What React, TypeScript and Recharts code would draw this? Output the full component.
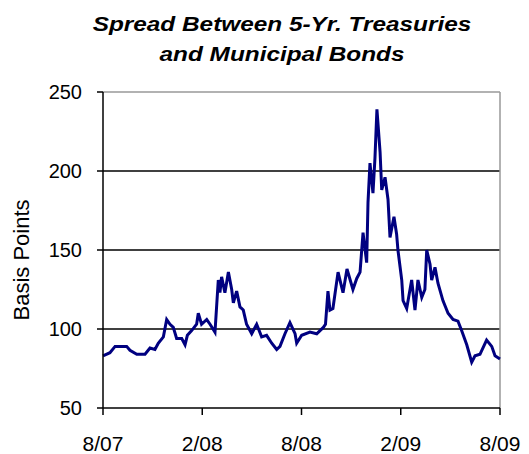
import { LineChart, Line, XAxis, YAxis, ReferenceLine } from 'recharts';

// months since Aug 2007
const months = [
  0, 0.42, 0.73, 1.03, 1.43, 1.63, 2.04, 2.54, 2.84, 3.14, 3.34, 3.65, 3.85, 4.05, 4.25, 4.45,
  4.76, 4.96, 5.1, 5.36, 5.66, 5.76, 5.96, 6.27, 6.47, 6.77, 6.97, 7.07, 7.17, 7.37, 7.58, 7.78,
  7.88, 8.08, 8.28, 8.48, 8.68, 8.99, 9.29, 9.59, 9.89, 10.2, 10.5, 10.7, 11.0, 11.3, 11.61, 11.71,
  12.01, 12.51, 12.92,
  13.32, 13.45, 13.6, 13.72, 13.9, 14.21, 14.51, 14.75, 15.11, 15.34, 15.54, 15.72, 15.94, 16.02,
  16.14, 16.32, 16.44, 16.56, 16.75, 16.85, 17.05, 17.23, 17.35, 17.59, 17.75, 17.83, 18.06, 18.14,
  18.36, 18.66, 18.86, 19.04, 19.27, 19.46, 19.57, 19.77, 19.87, 20.07, 20.25, 20.55, 20.86, 21.16,
  21.46, 21.68, 21.99, 22.29, 22.49, 22.79, 23.19, 23.5, 23.7, 24,
];

// spread in basis points
const spread = [
  83, 85, 89, 89, 89, 86.5, 84, 84, 88, 87, 91, 95, 106, 103, 101, 94,
  94, 90, 96, 99, 103, 110, 103, 106, 103, 98, 131, 123, 133, 123, 136, 125,
  116.5, 124, 114, 112, 103, 97, 103, 95, 96, 91, 87, 89, 97, 104, 97, 91,
  96, 98, 97,
  101, 103, 124, 112, 113, 136, 123, 138, 125, 132, 136, 161, 142, 180,
  205, 186, 208, 239, 212, 188, 196, 182, 158, 171, 160, 150, 131, 118,
  113, 131, 112, 131, 120, 125, 150, 141, 131, 139, 129, 118, 110, 106,
  105, 99, 90, 79, 83, 84, 93, 89, 83, 81,
];

const tickMonths = [0, 6, 12, 18, 24];
const tickLabels = ['8/07', '2/08', '8/08', '2/09', '8/09'];
const yTicks = [50, 100, 150, 200, 250];
const gridValues = [100, 150, 200];

const data = months.map((m, i) => ({ m, v: spread[i] }));

const font = '"Liberation Sans", Arial, sans-serif';

const App = () => {
  return (
    <div style={{ position: 'absolute', left: 0, top: 0, width: 529, height: 454, background: '#fff' }}>
      <div
        style={{
          position: 'absolute',
          top: 9,
          left: 0,
          width: 564,
          textAlign: 'center',
          fontFamily: font,
          fontWeight: 'bold',
          fontStyle: 'italic',
          fontSize: 21,
          lineHeight: '30px',
          transform: 'scaleX(1.16)',
          transformOrigin: '282px 0',
        }}
      >
        Spread Between 5-Yr. Treasuries
        <br />
        and Municipal Bonds
      </div>
      <div
        style={{
          position: 'absolute',
          left: 22,
          top: 260,
          transform: 'translate(-50%, -50%) rotate(-90deg)',
          fontFamily: font,
          fontSize: 22,
          whiteSpace: 'nowrap',
          lineHeight: '24px',
        }}
      >
        Basis Points
      </div>
      <LineChart width={529} height={454} data={data} margin={{ top: 92, right: 29, bottom: 0, left: 0 }}>
        {gridValues.map((g) => (
          <ReferenceLine key={g} y={g} stroke="#000" strokeWidth={1.5} />
        ))}
        <ReferenceLine y={250} stroke="#999" strokeWidth={1.5} />
        <ReferenceLine x={24} stroke="#999" strokeWidth={1.5} />
        <XAxis
          dataKey="m"
          type="number"
          domain={[0, 24]}
          ticks={tickMonths}
          tickFormatter={(v) => tickLabels[tickMonths.indexOf(v)]}
          height={46}
          tickSize={7}
          tickMargin={21}
          axisLine={{ stroke: '#000', strokeWidth: 1.5 }}
          tickLine={{ stroke: '#000', strokeWidth: 1.5 }}
          tick={{ fill: '#000', fontSize: 21, fontFamily: font }}
        />
        <YAxis
          domain={[50, 250]}
          ticks={yTicks}
          width={103}
          tickSize={6}
          tickMargin={15}
          axisLine={{ stroke: '#000', strokeWidth: 1.5 }}
          tickLine={{ stroke: '#000', strokeWidth: 1.5 }}
          tick={{ fill: '#000', fontSize: 20, fontFamily: font }}
        />
        <Line
          type="linear"
          dataKey="v"
          stroke="#000080"
          strokeWidth={3}
          dot={false}
          isAnimationActive={false}
        />
      </LineChart>
    </div>
  );
};

export default App;
